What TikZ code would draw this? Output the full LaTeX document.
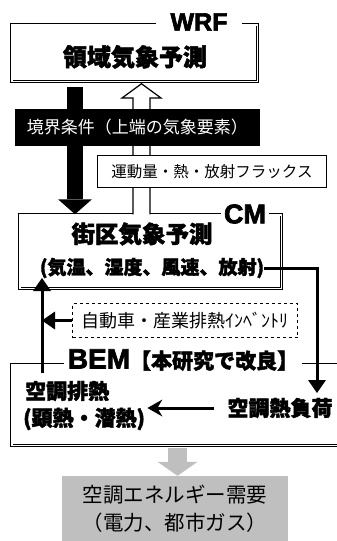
\documentclass[tikz,border=0pt]{standalone}
\usepackage{fontspec}
\newfontfamily\jp{Noto Sans CJK JP}[BoldFeatures={FakeBold=2}]
\newfontfamily\lat{Liberation Sans}[BoldFeatures={FakeBold=2.5}]
\usetikzlibrary{arrows.meta,calc}
\definecolor{gr}{HTML}{BFBFBF}
\begin{document}
\begin{tikzpicture}[x=1pt,y=-1pt,
  frame/.style={draw, line width=0.7pt, double=white, double distance=1.8pt, inner sep=0pt},
  lab/.style={fill=white, inner ysep=1pt, font=\lat\bfseries\fontsize{25}{28}\selectfont},
  jb/.style={inner sep=0pt, font=\jp\bfseries\fontsize{#1}{#1}\selectfont},
  arr/.style={line width=3pt, -{Triangle[width=18pt,length=13pt,line width=0pt]}},
  larr/.style={line width=3pt, -{Stealth[width=17pt,length=15pt,inset=5pt,line width=0pt]}}
]
\useasboundingbox (0,0) rectangle (337,541);
\clip (0,0) rectangle (337,541);

% frames
\node[frame, minimum width=245.8pt, minimum height=56.8pt] (wrf) at (134.5,53) {};
\node[frame, minimum width=261.8pt, minimum height=73.8pt] (cm) at (150.5,251.5) {};
\node[frame, minimum width=331.8pt, minimum height=80.8pt] (bem) at (177.5,405) {};

% frame labels
\node[lab, inner xsep=15pt] (wrfl) at (199,22) {WRF};
\node[lab, inner xsep=3pt, font=\lat\bfseries\fontsize{27}{28}\selectfont] (cml) at (245,214) {CM};
\node[fill=white, inner xsep=4pt, inner ysep=1pt] (beml) at (183,360)
  {{\lat\bfseries\fontsize{28}{30}\selectfont BEM}{\jp\bfseries\fontsize{21}{24}\selectfont【本研究で改良】}};

% texts
\node[jb=24] (wrft) at (135,57) {領域気象予測};
\node[jb=23.5] (cmt1) at (142,234) {街区気象予測};
\node[jb=19] (cmt2) at (152,268) {(気温、湿度、風速、放射)};
\node[jb=21, anchor=west] (hex1) at (25,391) {空調排熱};
\node[jb=21, anchor=west] (hex2) at (23,419) {(顕熱・潜熱)};
\node[jb=21] (load) at (280,408) {空調熱負荷};

% hollow up arrow (behind band and flux box)
\coordinate (hx) at (141.5,0);
\coordinate (hbase) at (141.5,98);
\draw[line width=1.2pt, fill=white, line join=miter]
  ($(cm.north -| hx)+(-8.5,0)$) -- ($(hbase)+(-8.5,0)$) -- ($(hbase)+(-19.5,0)$)
  -- ($(wrf.south -| hx)+(0,2)$) -- ($(hbase)+(19.5,0)$) -- ($(hbase)+(8.5,0)$)
  -- ($(cm.north -| hx)+(8.5,0)$);

% black down arrow
\coordinate (bx) at (75,0);
\draw[line width=16pt, -{Triangle[width=34pt,length=15pt,line width=0pt]}]
  ($(wrf.south -| bx)+(0,5)$) -- (cm.north -| bx);

% boundary band
\node[fill=black, text=white, minimum width=245pt, minimum height=37pt, font=\jp\fontsize{17}{20}\selectfont]
  (bnd) at (137.5,127.5) {境界条件（上端の気象要素）};

% flux box
\node[draw, line width=1.2pt, fill=white, minimum width=228.8pt, minimum height=31.8pt,
  font=\jp\fontsize{15.5}{18}\selectfont] (flux) at (212,171.5) {運動量・熱・放射フラックス};

% dashed box
\node[draw, dashed, line width=1pt, fill=white, minimum width=225pt, minimum height=34pt,
  font=\jp\fontsize{18}{20}\selectfont] (dash) at (185,320.5) {自動車・産業排熱ｲﾝﾍﾞﾝﾄﾘ};

% arrows around CM/BEM
\coordinate (rt) at (317,393);
\draw[arr] (cmt2.east) -| (rt);
\coordinate (lb) at (42,373);
\coordinate (lt) at (42,278);
\draw[arr] (lb) -- (lt);
\draw[arr] (dash.west) -- (dash.west -| lb);
\draw[larr, shorten <=13pt, shorten >=38pt] (load.west) -- (load.west -| hex1.east);

% demand box
\node[fill=gr, minimum width=226pt, minimum height=66pt, align=center,
  font=\jp\fontsize{20.5}{28}\selectfont] (demand) at (175,509) {空調エネルギー需要\\（電力、都市ガス）};
\coordinate (gx) at (177.5,0);
\draw[gr, line width=19pt, -{Triangle[width=40pt,length=14pt,line width=0pt]}]
  ($(bem.south -| gx)+(0,2)$) -- (demand.north -| gx);
\end{tikzpicture}
\end{document}
